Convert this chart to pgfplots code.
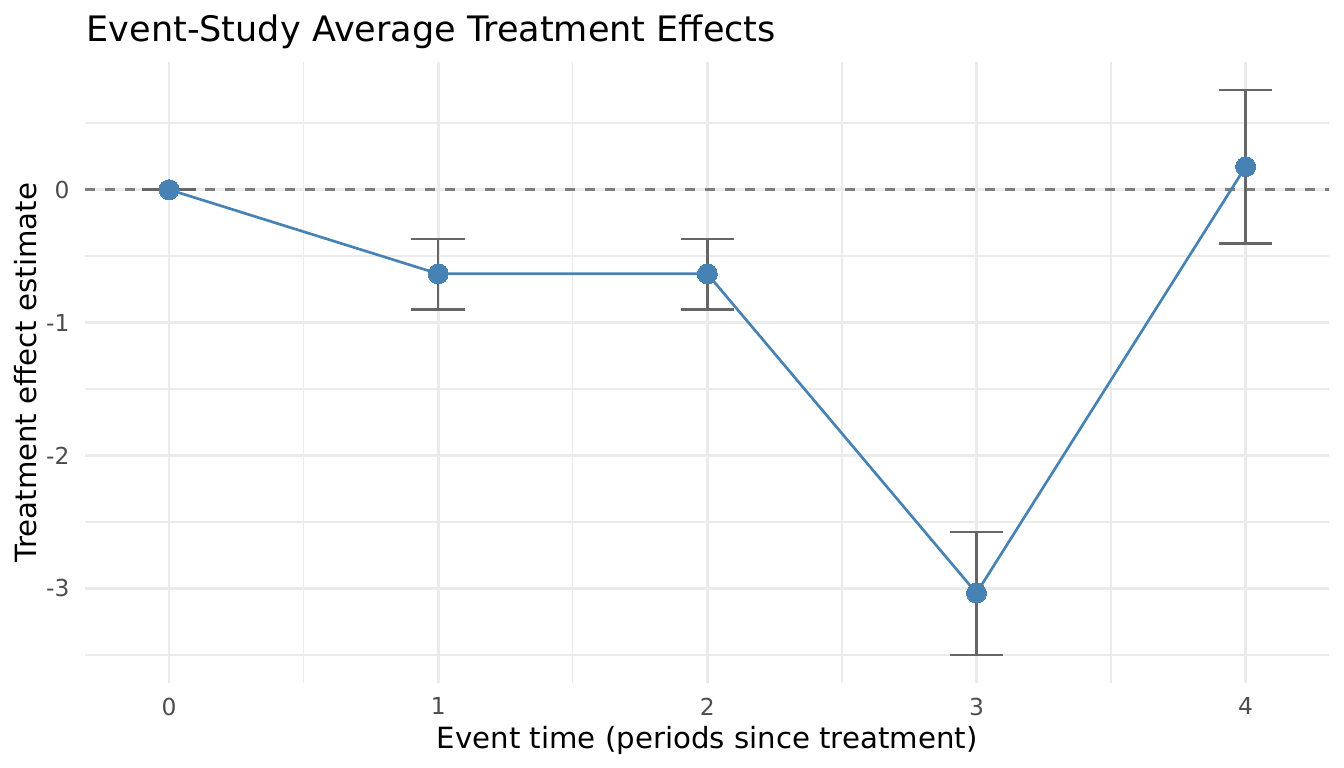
\documentclass[border=0pt]{standalone}
\usepackage{pgfplots}
\pgfplotsset{compat=1.18}
\usepackage{pgfplotstable}
\usepackage{fontspec}
\setmainfont{DejaVu Sans}
\definecolor{steel}{RGB}{70,130,180}
\definecolor{gridc}{RGB}{235,235,235}
\definecolor{errc}{RGB}{102,102,102}
\definecolor{dashc}{RGB}{127,127,127}
\definecolor{tickc}{RGB}{77,77,77}
\pgfplotstableread{
x y ep em
0 0 0 0
1 -0.633 0.262 0.269
2 -0.633 0.262 0.269
3 -3.035 0.460 0.464
4 0.173 0.576 0.579
}\est
\begin{document}
\begin{tikzpicture}
\useasboundingbox (0,0) rectangle (504bp,288bp);
\begin{axis}[
  at={(32bp,31.9bp)}, anchor=south west,
  scale only axis, width=466.5bp, height=232.9bp,
  xmin=-0.311, xmax=4.311, ymin=-3.711, ymax=0.961,
  axis line style={draw=none},
  major tick length=0pt, minor tick length=0pt,
  tick style={draw=none},
  xtick={0,1,2,3,4}, ytick={-3,-2,-1,0},
  minor xtick={0.5,1.5,2.5,3.5},
  minor ytick={-3.5,-2.5,-1.5,-0.5,0.5},
  grid=both,
  major grid style={draw=gridc, line width=1.07pt},
  minor grid style={draw=gridc, line width=0.53pt},
  /pgf/number format/assume math mode=true,
  ticklabel style={font=\fontsize{8.8}{10}\selectfont, text=tickc},
  xticklabel style={anchor=north, inner sep=0pt, yshift=-5.4bp},
  yticklabel style={anchor=east, inner sep=0pt, xshift=-5.75bp},
  clip=false,
]
\addplot[draw=dashc, line width=0.9pt, dash pattern=on 3.75bp off 3.75bp, mark=none] coordinates {(-0.311,0) (4.311,0)};
\addplot[draw=steel, line width=1.0pt, mark=none] table[x=x,y=y] {\est};
\addplot[draw=none, only marks, mark=*, mark size=3.75bp, color=steel, mark options={draw=steel, fill=steel, line width=0pt}] table[x=x,y=y] {\est};
\addplot[draw=none, mark=none,
  error bars/.cd, y dir=both, y explicit,
  error bar style={draw=errc, line width=0.9pt, solid},
  error mark options={draw=errc, line width=0.9pt, mark size=10.05bp, rotate=90, solid}]
  table[x=x, y=y, y error plus=ep, y error minus=em] {\est};
\end{axis}
\node[inner sep=0pt, anchor=base west, font=\fontsize{13.2}{15}\selectfont] at (32.25bp,272.4bp) {Event-Study Average Treatment Effects};
\node[inner sep=0pt, anchor=base, font=\fontsize{11}{13}\selectfont] at (265.2bp,7.35bp) {Event time (periods since treatment)};
\node[inner sep=0pt, anchor=base, rotate=90, font=\fontsize{11}{13}\selectfont] at (13.75bp,148.3bp) {Treatment effect estimate};
\end{tikzpicture}
\end{document}
